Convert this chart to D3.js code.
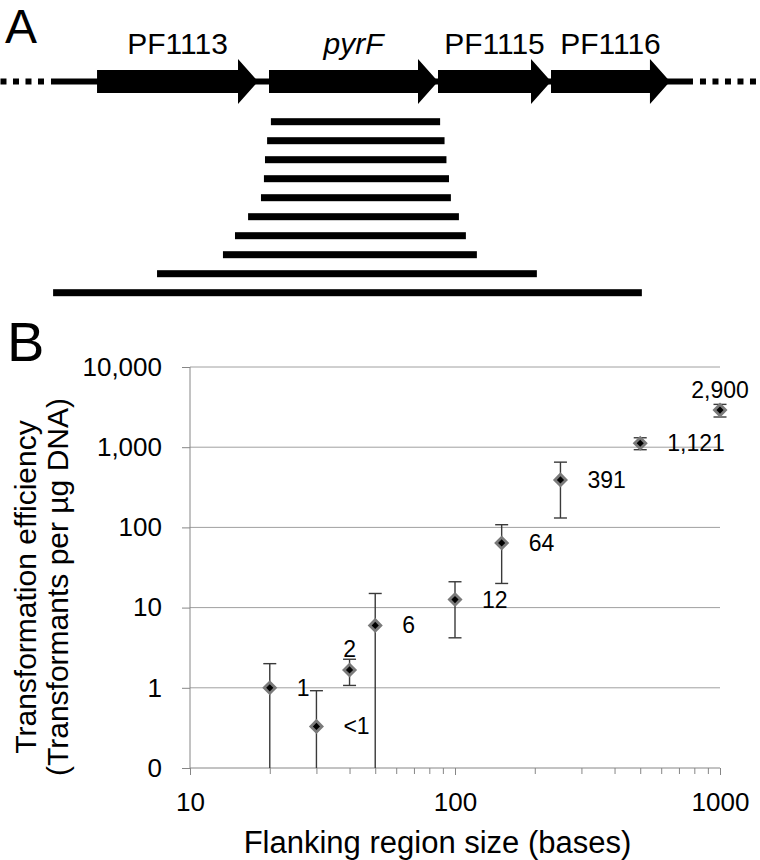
<!DOCTYPE html>
<html><head><meta charset="utf-8">
<script src="https://cdn.jsdelivr.net/npm/d3@7"></script>
<style>
body{margin:0;background:#fff}
svg{display:block}
text{font-family:"Liberation Sans",Arial,sans-serif;fill:#000}
</style>
</head><body>
<svg id="c" width="760" height="860"></svg>
<script>
// ---------- Panel A data (bp, relative to pyrF start) ----------
const geneNames  = ["PF1113", "pyrF", "PF1115", "PF1116"];
const geneItalic = [false, true, false, false];
const geneStarts = [-814, 0, 800, 1335];
const geneEnds   = [-52, 800, 1335, 1898];
const contigExtent = [-1032, 2007];
const fragStarts = [9, -9, -19, -24, -38, -99, -161, -218, -530, -1022];
const fragEnds   = [810, 831, 840, 852, 861, 899, 932, 984, 1268, 1765];

// ---------- Panel B data ----------
const flankSizes   = [20, 30, 40, 50, 100, 150, 250, 500, 1000];
const efficiency   = [1, 0.33, 1.67, 6, 12.6, 64, 391, 1121, 2900];
const efficiencySD = [1, 0.59, 0.6, 9, 8.4, 44, 260, 190, 520];
const pointLabels  = ["1", "<1", "2", "6", "12", "64", "391", "1,121", "2,900"];
const labelAbove   = [false, false, true, false, false, false, false, false, true];
const yTickValues  = [0.1, 1, 10, 100, 1000, 10000];
const yTickLabels  = ["0", "1", "10", "100", "1,000", "10,000"];
const xMajorTicks  = [10, 100, 1000];
const xMajorLabels = ["10", "100", "1000"];
const xMinorTicks  = [20, 30, 40, 50, 60, 70, 80, 90, 200, 300, 400, 500, 600, 700, 800, 900];

const svg = d3.select("#c");

// ================= Panel A =================
const gx = d3.scaleLinear().domain([0, 800]).range([269, 438]);
const geneY = 81.5, bodyH = 11.5, headH = 22.5, headL = 20;

svg.append("text").attr("x", 5).attr("y", 43).attr("font-size", 48).text("A");

// backbone
svg.append("line")
  .attr("x1", gx(contigExtent[0])).attr("x2", gx(contigExtent[1]))
  .attr("y1", geneY).attr("y2", geneY)
  .attr("stroke", "#000").attr("stroke-width", 6);
// dotted continuation
svg.append("line")
  .attr("x1", gx(contigExtent[0]) - 7).attr("x2", 0)
  .attr("y1", geneY).attr("y2", geneY)
  .attr("stroke", "#000").attr("stroke-width", 6).attr("stroke-dasharray", "6 6.5");
svg.append("line")
  .attr("x1", gx(contigExtent[1]) + 7).attr("x2", 760)
  .attr("y1", geneY).attr("y2", geneY)
  .attr("stroke", "#000").attr("stroke-width", 6).attr("stroke-dasharray", "6 6.5");

const genes = geneNames.map((n, i) => ({n, it: geneItalic[i], s: geneStarts[i], e: geneEnds[i]}));
svg.append("g").selectAll("path").data(genes).join("path")
  .attr("d", d => {
    const x0 = gx(d.s), x1 = gx(d.e), xh = x1 - headL;
    return `M${x0},${geneY - bodyH}L${xh},${geneY - bodyH}L${xh},${geneY - headH}L${x1},${geneY}L${xh},${geneY + headH}L${xh},${geneY + bodyH}L${x0},${geneY + bodyH}Z`;
  })
  .attr("fill", "#000");
svg.append("g").selectAll("text").data(genes).join("text")
  .attr("x", d => (gx(d.s) + gx(d.e)) / 2)
  .attr("y", 54)
  .attr("text-anchor", "middle")
  .attr("font-size", 30)
  .attr("font-style", d => d.it ? "italic" : "normal")
  .text(d => d.n);

// fragments
const fy = d3.scalePoint().domain(d3.range(fragStarts.length)).range([121.7, 292.7]);
svg.append("g").selectAll("rect").data(fragStarts.map((s, i) => ({i, s, e: fragEnds[i]}))).join("rect")
  .attr("x", d => gx(d.s)).attr("width", d => gx(d.e) - gx(d.s))
  .attr("y", d => fy(d.i) - 3.5).attr("height", 7)
  .attr("fill", "#000");

// ================= Panel B =================
const x = d3.scaleLog().domain([10, 1000]).range([190, 720]);
const y = d3.scaleLog().domain([0.1, 10000]).range([768, 367]);
const axisCol = "#868686";

svg.append("text").attr("x", 7).attr("y", 361).attr("font-size", 56).text("B");

// gridlines
svg.append("g").selectAll("line").data(yTickValues.slice(1)).join("line")
  .attr("x1", x(10)).attr("x2", x(1000))
  .attr("y1", d => y(d)).attr("y2", d => y(d))
  .attr("stroke", "#a0a0a0").attr("stroke-width", 1);

// y axis
const yAxis = svg.append("g").attr("transform", `translate(${x(10)},0)`)
  .call(d3.axisLeft(y).tickValues(yTickValues).tickSize(8).tickPadding(20)
    .tickFormat((d, i) => yTickLabels[i]));
yAxis.select(".domain").attr("stroke", axisCol).attr("d", `M0,${y(0.1)}V${y(10000)}`);
yAxis.selectAll(".tick line").attr("stroke", axisCol);
yAxis.selectAll("text").attr("font-size", 26).attr("font-family", "Liberation Sans, Arial, sans-serif").attr("fill", "#000");

// x axis
const xAxis = svg.append("g").attr("transform", `translate(0,${y(0.1)})`)
  .call(d3.axisBottom(x).tickValues(xMajorTicks).tickSize(7).tickPadding(18)
    .tickFormat((d, i) => xMajorLabels[i]));
xAxis.select(".domain").attr("stroke", axisCol).attr("d", `M${x(10)},0H${x(1000)}`);
xAxis.selectAll(".tick line").attr("stroke", axisCol);
xAxis.selectAll("text").attr("font-size", 26).attr("font-family", "Liberation Sans, Arial, sans-serif").attr("fill", "#000");
const xMinor = svg.append("g").attr("transform", `translate(0,${y(0.1)})`)
  .call(d3.axisBottom(x).tickValues(xMinorTicks).tickSize(6).tickFormat(""));
xMinor.select(".domain").remove();
xMinor.selectAll(".tick line").attr("stroke", axisCol);

// data
const pts = flankSizes.map((s, i) => ({
  s, v: efficiency[i], sd: efficiencySD[i], lab: pointLabels[i], above: labelAbove[i]
}));
const yMin = y.domain()[0];
const capW = 6.5;
const eb = svg.append("g").attr("stroke", "#3a3a3a").attr("stroke-width", 1.4).attr("fill", "none");
pts.forEach(d => {
  const hi = d.v + d.sd, lo = d.v - d.sd;
  const loClamped = lo <= yMin;
  const yHi = y(hi), yLo = loClamped ? y(yMin) : y(lo), cx = x(d.s);
  eb.append("line").attr("x1", cx).attr("x2", cx).attr("y1", yHi).attr("y2", yLo);
  eb.append("line").attr("x1", cx - capW).attr("x2", cx + capW).attr("y1", yHi).attr("y2", yHi);
  if (!loClamped) eb.append("line").attr("x1", cx - capW).attr("x2", cx + capW).attr("y1", yLo).attr("y2", yLo);
});

const diamond = d3.symbol().type(d3.symbolSquare).size(62);
svg.append("g").selectAll("path").data(pts).join("path")
  .attr("d", diamond)
  .attr("transform", d => `translate(${x(d.s)},${y(d.v)}) rotate(45)`)
  .attr("fill", "#000").attr("stroke", "#7a7a7a").attr("stroke-width", 2.8);

svg.append("g").selectAll("text").data(pts).join("text")
  .attr("x", d => d.above ? x(d.s) : x(d.s) + 27)
  .attr("y", d => d.above ? y(d.v) - 12.5 : y(d.v))
  .attr("dy", d => d.above ? 0 : "0.35em")
  .attr("text-anchor", d => d.above ? "middle" : "start")
  .attr("font-size", 23)
  .text(d => d.lab);

// axis titles
svg.append("text").attr("x", 437.5).attr("y", 853).attr("text-anchor", "middle")
  .attr("font-size", 31).text("Flanking region size (bases)");
const yt = svg.append("g").attr("transform", "translate(0,587) rotate(-90)");
yt.append("text").attr("x", 0).attr("y", 36).attr("text-anchor", "middle")
  .attr("font-size", 30).text("Transformation efficiency");
yt.append("text").attr("x", 0).attr("y", 68).attr("text-anchor", "middle")
  .attr("font-size", 30).text("(Transformants per µg DNA)");
</script>
</body></html>
